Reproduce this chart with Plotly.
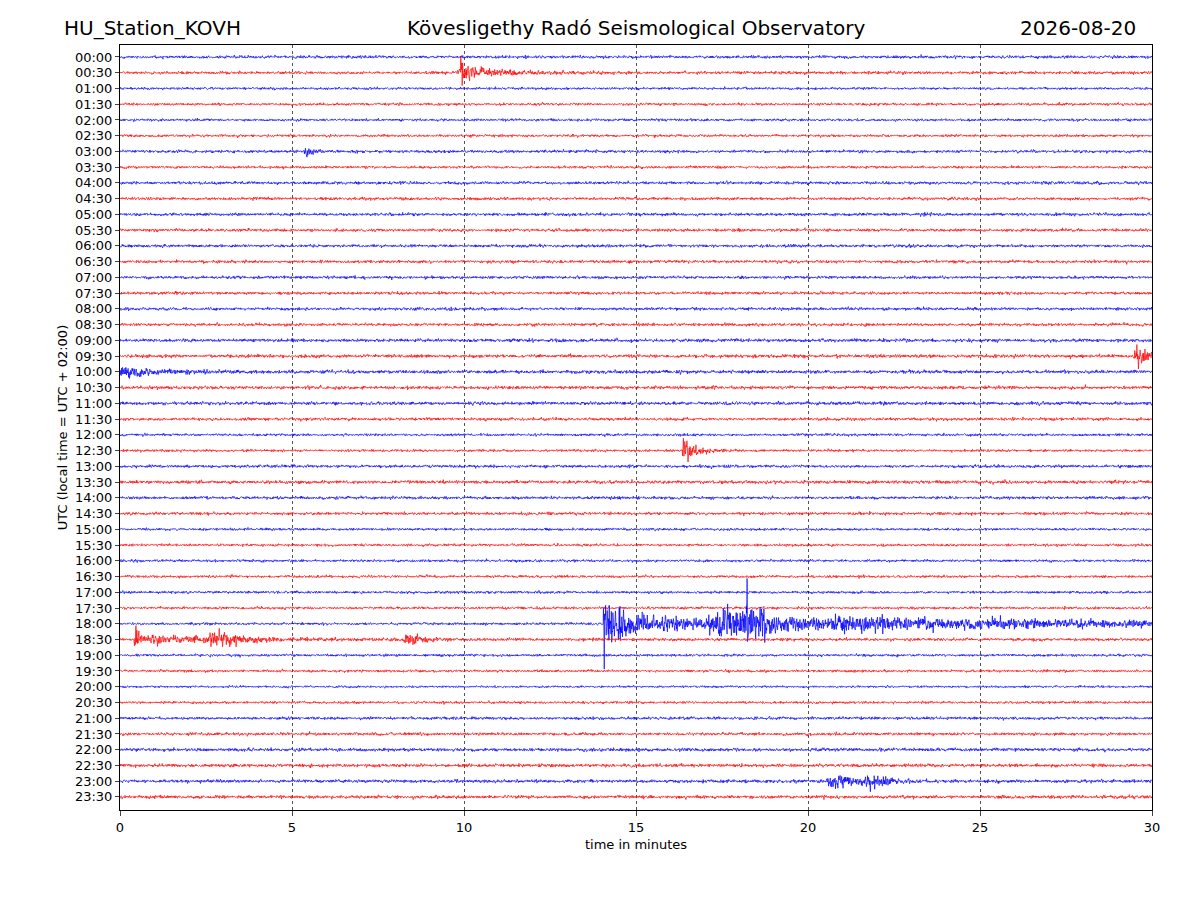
import numpy as np
import plotly.graph_objects as go

# helicorder: 48 half-hour lines, 30 minutes each
line_labels = ["%02d:%02d" % (h, m) for h in range(24) for m in (0, 30)]
line_colors = ["blue" if i % 2 == 0 else "red" for i in range(48)]

# background noise level per line (in line-spacing units)
noise_level = [0.08, 0.08, 0.07, 0.07, 0.07, 0.07, 0.08, 0.07, 0.08, 0.08, 0.08, 0.08,
               0.08, 0.08, 0.08, 0.08, 0.08, 0.08, 0.09, 0.09, 0.09, 0.09, 0.09, 0.08,
               0.07, 0.07, 0.08, 0.09, 0.08, 0.08, 0.07, 0.07, 0.07, 0.07, 0.07, 0.07,
               0.07, 0.08, 0.07, 0.07, 0.06, 0.07, 0.08, 0.08, 0.09, 0.09, 0.09, 0.09]

# events: line index, onset (min), peak amplitude, decay (min), rise (min)
ev_line = [1, 1, 6, 19, 20, 25, 36, 36, 36, 36, 36, 36, 36, 36, 37, 37, 37, 37, 46, 46]
ev_start = [9.9, 9.95, 5.4, 29.55, 0.0, 16.35, 14.05, 14.05, 14.5, 14.05, 17.6, 18.2, 18.6, 21.0,
            0.45, 2.7, 1.0, 8.4, 20.8, 21.8]
ev_amp = [1.4, 0.4, 0.3, 0.6, 0.3, 1.0, 8.0, 0.9, 2.0, 0.3, 0.7, 1.5, 1.1, 0.2,
          0.8, 0.45, 0.2, 0.25, 0.4, 0.35]
ev_decay = [0.06, 1.0, 0.15, 0.4, 1.0, 0.3, 0.03, 0.8, 0.06, 14.0, 1.2, 0.12, 0.15, 6.0,
            0.12, 0.5, 2.5, 0.4, 0.6, 0.4]
ev_rise = [0.0, 0.2, 0.05, 0.1, 0.0, 0.02, 0.0, 0.0, 0.0, 0.0, 0.6, 0.0, 0.0, 0.5,
           0.05, 0.2, 0.5, 0.2, 0.3, 0.2]

t = np.linspace(0, 30, 6000)
rng = np.random.default_rng(7)  # waveform texture only

fig = go.Figure()
for i in range(48):
    env = np.full_like(t, noise_level[i])
    for k in range(len(ev_line)):
        if ev_line[k] != i:
            continue
        s = ev_start[k] - ev_rise[k]
        rise = np.clip((t - s) / max(ev_rise[k], 1e-3), 0, 1)
        dec = np.where(t >= ev_start[k], np.exp(-(t - ev_start[k]) / ev_decay[k]), 1.0)
        env = env + ev_amp[k] * rise * dec * (t >= s)
    wave = rng.standard_normal(t.size)
    wave = np.convolve(wave, [0.3, 0.6, 0.3], mode="same")
    y = i - env * wave / 1.5
    fig.add_trace(go.Scatter(x=t, y=y, mode="lines", line=dict(color=line_colors[i], width=0.7),
                             hoverinfo="skip", showlegend=False))

title_y = 1 + 17 / 765
fig.update_layout(
    width=1200, height=900, paper_bgcolor="white", plot_bgcolor="white",
    margin=dict(l=112, r=56, t=37, b=98),
    font=dict(family="DejaVu Sans", color="black", size=13),
    annotations=[
        dict(text="HU_Station_KOVH", x=-0.056, xref="paper", y=title_y, yref="paper",
             xanchor="left", yanchor="middle", showarrow=False, font=dict(size=20)),
        dict(text="Kövesligethy Radó Seismological Observatory", x=0.5, xref="paper", y=title_y,
             yref="paper", xanchor="center", yanchor="middle", showarrow=False, font=dict(size=20)),
        dict(text="2026-08-20", x=0.986, xref="paper", y=title_y, yref="paper",
             xanchor="right", yanchor="middle", showarrow=False, font=dict(size=20)),
    ],
)
fig.update_xaxes(range=[0, 30], tickvals=[0, 5, 10, 15, 20, 25, 30], ticks="outside", ticklen=5,
                 showline=True, linecolor="black", mirror=True, showgrid=True, gridcolor="#555",
                 griddash="dot", gridwidth=0.5, zeroline=False,
                 title=dict(text="time in minutes", font=dict(size=13), standoff=6))
fig.update_yaxes(range=[47.83, -0.76], tickvals=list(range(48)), ticktext=line_labels,
                 ticks="outside", ticklen=4, showline=True, linecolor="black", mirror=True,
                 showgrid=False, zeroline=False,
                 title=dict(text="UTC (local time = UTC + 02:00)", font=dict(size=13), standoff=4))
fig.write_html("out.html")
